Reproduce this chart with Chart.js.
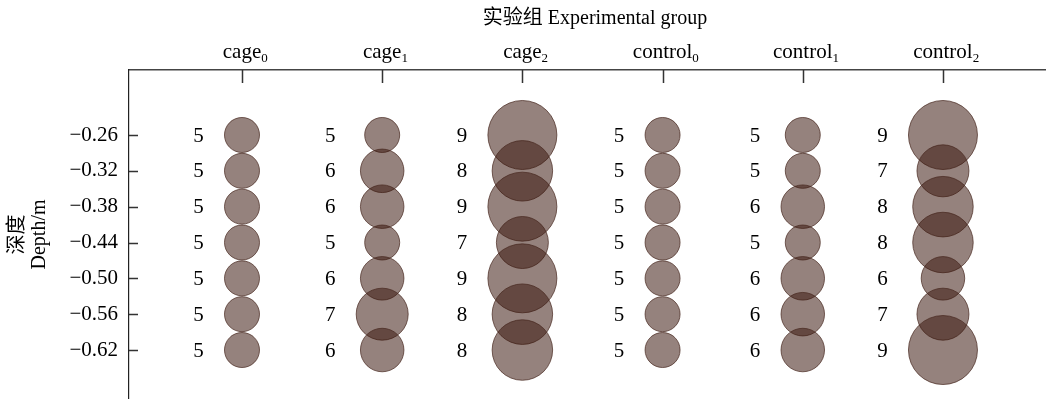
<!DOCTYPE html>
<html>
<head>
<meta charset="utf-8">
<script src="https://cdn.jsdelivr.net/npm/chart.js@4.4.1/dist/chart.umd.min.js"></script>
<style>
  html, body { margin: 0; padding: 0; background: #ffffff; }
  canvas { display: block; }
</style>
</head>
<body>
<canvas id="chart" width="1046" height="399"></canvas>
<script>
// Experimental groups (name + subscript index) and sampling depths
const groupNames = ['cage', 'cage', 'cage', 'control', 'control', 'control'];
const groupSubs  = ['0', '1', '2', '0', '1', '2'];
const depths     = [-0.26, -0.32, -0.38, -0.44, -0.50, -0.56, -0.62];

// Counts per depth (top to bottom) for each group
const cage0    = [5, 5, 5, 5, 5, 5, 5];
const cage1    = [5, 6, 6, 5, 6, 7, 6];
const cage2    = [9, 8, 9, 7, 9, 8, 8];
const control0 = [5, 5, 5, 5, 5, 5, 5];
const control1 = [5, 5, 6, 5, 6, 6, 6];
const control2 = [9, 7, 8, 8, 6, 7, 9];

const counts = [cage0, cage1, cage2, control0, control1, control2];

const chartTitle = '实验组 Experimental group';

const SERIF = "'Liberation Serif', 'Times New Roman', 'Noto Sans CJK SC', serif";
const FONT_SIZE = 21;

// Bubble radius (px) grows with the count
const radiusFor = n => 17.5 + (n - 5) * 4.25;

const datasets = counts.map((vals, i) => ({
  label: groupNames[i] + groupSubs[i],
  data: vals.map((n, j) => ({ x: i, y: depths[j], r: radiusFor(n), n: n })),
  backgroundColor: 'rgba(60, 24, 14, 0.54)',
  borderColor: 'rgba(70, 38, 30, 0.7)',
  borderWidth: 1,
  hoverRadius: 0
}));

// Title, inward tick marks, group labels with subscripts, and count labels
const decorations = {
  id: 'decorations',
  afterDraw(chart) {
    const { ctx, chartArea, scales } = chart;
    const xs = scales.x, ys = scales.y;
    ctx.save();
    ctx.strokeStyle = '#333333';
    ctx.lineWidth = 1.5;
    ctx.beginPath();
    ys.ticks.forEach(t => {
      const py = Math.round(ys.getPixelForValue(t.value)) + 0.5;
      ctx.moveTo(chartArea.left, py);
      ctx.lineTo(chartArea.left + 9, py);
    });
    groupNames.forEach((_, i) => {
      const px = Math.round(xs.getPixelForValue(i)) + 0.5;
      ctx.moveTo(px, chartArea.top);
      ctx.lineTo(px, chartArea.top + 13);
    });
    ctx.stroke();

    ctx.fillStyle = '#000000';
    ctx.textBaseline = 'alphabetic';

    // chart title above the group labels
    ctx.font = '20px ' + SERIF;
    ctx.textAlign = 'center';
    ctx.fillText(chartTitle, 595, 24);

    // group labels on the top axis
    groupNames.forEach((name, i) => {
      const px = xs.getPixelForValue(i);
      ctx.font = FONT_SIZE + 'px ' + SERIF;
      const w = ctx.measureText(name).width;
      ctx.textAlign = 'left';
      ctx.fillText(name, px - w / 2, 58);
      ctx.font = '13px ' + SERIF;
      ctx.fillText(groupSubs[i], px + w / 2, 62);
    });
    ctx.restore();
  },
  afterDatasetsDraw(chart) {
    const { ctx } = chart;
    ctx.save();
    ctx.font = FONT_SIZE + 'px ' + SERIF;
    ctx.fillStyle = '#000000';
    ctx.textAlign = 'center';
    ctx.textBaseline = 'middle';
    chart.data.datasets.forEach((ds, i) => {
      const meta = chart.getDatasetMeta(i);
      const maxR = Math.max(...ds.data.map(d => d.r));
      meta.data.forEach((el, j) => {
        ctx.fillText(String(ds.data[j].n), el.x - maxR - 26, el.y + 1);
      });
    });
    ctx.restore();
  }
};

new Chart(document.getElementById('chart'), {
  type: 'bubble',
  data: { datasets },
  options: {
    responsive: false,
    devicePixelRatio: 1,
    animation: false,
    events: [],
    layout: { padding: 0, autoPadding: false },
    plugins: {
      legend: { display: false },
      tooltip: { enabled: false },
      title: { display: false }
    },
    scales: {
      x: {
        type: 'linear',
        position: 'top',
        min: -0.806,
        max: 5.735,
        grid: { display: false, drawTicks: false },
        border: { display: true, color: '#444444', width: 1.5 },
        ticks: { display: false },
        afterFit(scale) {
          scale.height = 70;
          scale.paddingLeft = 0;
          scale.paddingRight = 0;
        }
      },
      y: {
        type: 'linear',
        position: 'left',
        min: -0.702,
        max: -0.1512,
        grid: { display: false, drawTicks: false },
        border: { display: true, color: '#222222', width: 1.2 },
        afterBuildTicks(scale) { scale.ticks = depths.map(v => ({ value: v })); },
        ticks: {
          padding: 11,
          color: '#000000',
          font: { family: SERIF, size: FONT_SIZE },
          callback: v => '\u2212' + Math.abs(v).toFixed(2)
        },
        title: {
          display: true,
          text: ['深度', 'Depth/m'],
          color: '#000000',
          font: { family: SERIF, size: 20, lineHeight: 1.1 },
          padding: { top: 7, bottom: 0 }
        },
        afterFit(scale) {
          scale.width = 129;
          scale.paddingTop = 0;
          scale.paddingBottom = 0;
        }
      }
    }
  },
  plugins: [decorations]
});
</script>
</body>
</html>
